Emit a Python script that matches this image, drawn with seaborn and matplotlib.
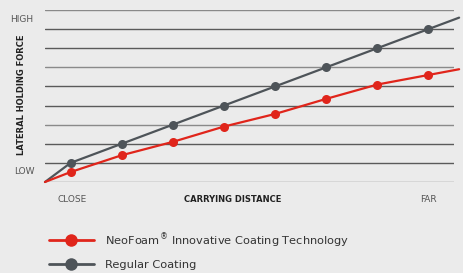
import numpy as np
import pandas as pd
import matplotlib
matplotlib.use("Agg")
import matplotlib.pyplot as plt
from matplotlib.lines import Line2D
import seaborn as sns

# distance positions (0 = close, 8 = far edge), force in grid steps
distance = [0, 0.5, 1.5, 2.5, 3.5, 4.5, 5.5, 6.5, 7.5, 8.1]
neofoam = [0, 0.52, 1.4, 2.1, 2.9, 3.56, 4.35, 5.1, 5.6, 5.9]
regular = [0, 1.0, 2.0, 3.0, 4.0, 5.0, 6.0, 7.0, 8.0, 8.6]
series_names = [r"$\mathregular{NeoFoam^{®}}$ Innovative Coating Technology", "Regular Coating"]
x_labels = ["CLOSE", "FAR"]
y_labels = ["LOW", "HIGH"]

red = "#e0251b"
gray = "#4e5459"
bg = "#ebebeb"

df = pd.DataFrame({
    "distance": distance * 2,
    "force": neofoam + regular,
    "series": ["neo"] * len(distance) + ["reg"] * len(distance),
})

sns.set_style("white")
plt.rcParams["font.family"] = ["DejaVu Sans"]

fig = plt.figure(figsize=(4.64, 2.73), dpi=100, facecolor=bg)
ax = fig.add_axes([45 / 464, 1 - 182 / 273, 409 / 464, 172 / 273])
ax.set_facecolor(bg)

# grid lines
for i in range(10):
    ax.axhline(i, color="#5a5a5a" if i % 3 else "#8a8a8a", lw=1.0, zorder=1)

for key, col in [("reg", gray), ("neo", red)]:
    sub = df[df["series"] == key]
    sns.lineplot(data=sub, x="distance", y="force", ax=ax, color=col, lw=1.6,
                 marker="o", markersize=6.5, markeredgewidth=0, markevery=list(range(1, 9)),
                 clip_on=False, zorder=3, legend=False)

ax.set_xlim(0, 8)
ax.set_ylim(0, 9)
ax.set_xticks([])
ax.set_yticks([])
ax.set_xlabel("")
ax.set_ylabel("")
for s in ax.spines.values():
    s.set_visible(False)

# axis texts
lab = dict(fontsize=6.5, color="#555555", ha="center", va="center")
ttl = dict(fontsize=6, color="#222222", ha="center", va="center", fontweight="bold")
fig.text(72 / 464, 1 - 200 / 273, x_labels[0], **lab)
fig.text(428 / 464, 1 - 200 / 273, x_labels[1], **lab)
fig.text(233 / 464, 1 - 200 / 273, "CARRYING DISTANCE", **ttl)
fig.text(24 / 464, 1 - 172 / 273, y_labels[0], **lab)
fig.text(22 / 464, 1 - 19 / 273, y_labels[1], **lab)
fig.text(22 / 464, 1 - 95 / 273, "LATERAL HOLDING FORCE", rotation=90, **ttl)

handles = [Line2D([], [], color=red, lw=2, marker="o", markersize=9, markeredgewidth=0),
           Line2D([], [], color=gray, lw=2, marker="o", markersize=9, markeredgewidth=0)]
fig.legend(handles, series_names, loc="upper left", bbox_to_anchor=(39 / 464, 1 - 221 / 273),
           frameon=False, handlelength=3.9, handletextpad=1.0, labelspacing=0.95,
           prop={"family": ["DejaVu Sans"], "size": 8.2}, labelcolor="#333333")

fig.savefig("out.png", dpi=100, facecolor=bg)
